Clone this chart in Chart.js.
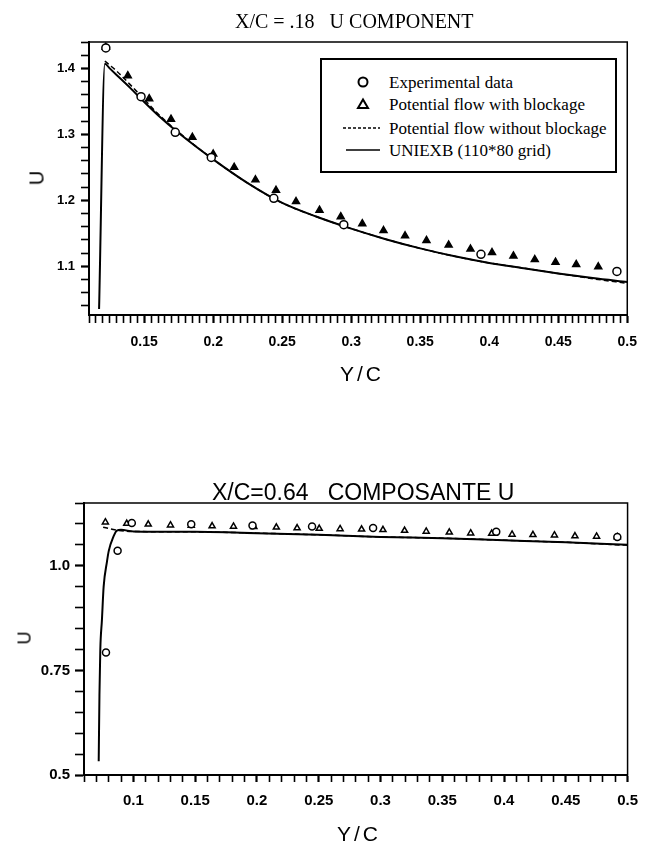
<!DOCTYPE html>
<html>
<head>
<meta charset="utf-8">
<script src="https://cdn.jsdelivr.net/npm/chart.js@4.4.1/dist/chart.umd.min.js"></script>
<style>
  body { margin: 0; background: #fff; }
  #wrap { position: relative; width: 648px; height: 843px; overflow: hidden; background: #fff; }
  canvas { position: absolute; left: 0; }
  .txt { position: absolute; white-space: pre; color: #000; line-height: 1; }
  .rot { transform: translate(-50%, -50%) rotate(-90deg); }
  #legend { position: absolute; left: 320px; top: 58px; width: 293px; height: 111px; border: 2px solid #000; background: #fff; }
  #legend .row { position: absolute; left: 67px; font: 17px 'Liberation Serif', serif; white-space: pre; line-height: 1; }
</style>
</head>
<body>
<div id="wrap">
  <canvas id="chart1" width="648" height="410" style="top:0px"></canvas>
  <canvas id="chart2" width="648" height="423" style="top:420px"></canvas>

  <div class="txt" style="left:235px;top:10px;font:20px 'Liberation Serif',serif;">X/C = .18   U COMPONENT</div>
  <div class="txt rot" style="left:37px;top:178px;font:20px 'Liberation Sans',sans-serif;">U</div>
  <div class="txt" style="left:340px;top:362px;font:21px 'Liberation Sans',sans-serif;letter-spacing:3px;">Y/C</div>

  <div id="legend">
    <svg width="293" height="111" style="position:absolute;left:0;top:0">
      <circle cx="41" cy="22" r="4.5" fill="none" stroke="#000" stroke-width="2"/>
      <polygon points="41,39.5 36,48 46,48" fill="none" stroke="#000" stroke-width="2"/>
      <line x1="21" y1="68" x2="58" y2="68" stroke="#000" stroke-width="1.5" stroke-dasharray="3,2"/>
      <line x1="24" y1="90" x2="58" y2="90" stroke="#000" stroke-width="1.5"/>
    </svg>
    <div class="row" style="top:14px">Experimental data</div>
    <div class="row" style="top:36px">Potential flow with blockage</div>
    <div class="row" style="top:60px">Potential flow without blockage</div>
    <div class="row" style="top:82px">UNIEXB (110*80 grid)</div>
  </div>

  <div class="txt" style="left:212px;top:479px;font:23px 'Liberation Sans',sans-serif;">X/C=0.64   COMPOSANTE U</div>
  <div class="txt rot" style="left:25px;top:638px;font:18px 'Liberation Sans',sans-serif;">U</div>
  <div class="txt" style="left:337px;top:822px;font:21px 'Liberation Sans',sans-serif;letter-spacing:3px;">Y/C</div>
</div>

<script>
// X/C = .18 chart
const topExpX = [0.1222, 0.1477, 0.1725, 0.1986, 0.2439, 0.2946, 0.394, 0.4925];
const topExpY = [1.431, 1.357, 1.303, 1.265, 1.203, 1.163, 1.118, 1.092];

const topBlockX = [0.1222, 0.1381, 0.1536, 0.1694, 0.1849, 0.2, 0.2152, 0.2306, 0.2455, 0.26, 0.277, 0.2924,
  0.308, 0.3234, 0.339, 0.3545, 0.3706, 0.3864, 0.402, 0.4175, 0.433, 0.448, 0.463, 0.479];
const topBlockY = [1.432, 1.389, 1.354, 1.323, 1.2955, 1.27, 1.25, 1.231, 1.215, 1.198, 1.185, 1.175,
  1.1645, 1.154, 1.146, 1.139, 1.132, 1.126, 1.1206, 1.1155, 1.11, 1.106, 1.1026, 1.099];

const topNoBlockX = [0.1215, 0.125, 0.13, 0.14, 0.15, 0.16, 0.175, 0.2, 0.225, 0.25, 0.275, 0.3, 0.325, 0.35, 0.375, 0.4, 0.425, 0.45, 0.475, 0.5];
const topNoBlockY = [1.411, 1.405, 1.396, 1.375, 1.353, 1.331, 1.303, 1.262, 1.226, 1.196, 1.175, 1.157, 1.141, 1.127, 1.115, 1.105, 1.097, 1.089, 1.081, 1.074];

const topUniX = [0.1173, 0.1215, 0.125, 0.13, 0.14, 0.15, 0.16, 0.175, 0.2, 0.225, 0.25, 0.275, 0.3, 0.325, 0.35, 0.375, 0.4, 0.425, 0.45, 0.475, 0.5];
const topUniY = [1.035, 1.407, 1.4, 1.39, 1.37, 1.349, 1.329, 1.302, 1.262, 1.226, 1.196, 1.175, 1.157, 1.141, 1.127, 1.115, 1.105, 1.097, 1.089, 1.082, 1.076];

const topXTicks = [0.15, 0.2, 0.25, 0.3, 0.35, 0.4, 0.45, 0.5];
const topXLabels = ['0.15', '0.2', '0.25', '0.3', '0.35', '0.4', '0.45', '0.5'];
const topYTicks = [1.1, 1.2, 1.3, 1.4];
const topYLabels = ['1.1', '1.2', '1.3', '1.4'];

// X/C = 0.64 chart
const botExpX = [0.0778, 0.0872, 0.0987, 0.1468, 0.1964, 0.2446, 0.294, 0.3937, 0.4917];
const botExpY = [0.793, 1.036, 1.102, 1.099, 1.096, 1.094, 1.09, 1.081, 1.069];

const botBlockX = [0.0773, 0.0946, 0.112, 0.13, 0.1468, 0.1637, 0.181, 0.1975, 0.2157, 0.2325, 0.2504, 0.2673, 0.2847,
  0.302, 0.3195, 0.337, 0.3557, 0.373, 0.39, 0.4065, 0.4234, 0.4408, 0.4574, 0.4749, 0.4917];
const botBlockY = [1.104, 1.101, 1.099, 1.097, 1.096, 1.095, 1.094, 1.093, 1.092, 1.09, 1.089, 1.088, 1.087,
  1.086, 1.084, 1.082, 1.08, 1.078, 1.077, 1.075, 1.074, 1.073, 1.071, 1.07, 1.069];

const botNoBlockX = [0.0755, 0.082, 0.0866, 0.1, 0.15, 0.2, 0.25, 0.3, 0.35, 0.4, 0.45, 0.5];
const botNoBlockY = [1.092, 1.088, 1.085, 1.082, 1.081, 1.078, 1.074, 1.069, 1.066, 1.061, 1.056, 1.049];

const botUniX = [0.0719, 0.0725, 0.0732, 0.0745, 0.0759, 0.0786, 0.08, 0.0839, 0.0866, 0.09, 0.1, 0.15, 0.2, 0.25, 0.3, 0.35, 0.4, 0.45, 0.5];
const botUniY = [0.533, 0.69, 0.8, 0.87, 0.95, 1.01, 1.035, 1.07, 1.084, 1.086, 1.082, 1.081, 1.078, 1.074, 1.069, 1.066, 1.061, 1.056, 1.05];

const botXTicks = [0.1, 0.15, 0.2, 0.25, 0.3, 0.35, 0.4, 0.45, 0.5];
const botXLabels = ['0.1', '0.15', '0.2', '0.25', '0.3', '0.35', '0.4', '0.45', '0.5'];
const botYTicks = [0.5, 0.75, 1.0];
const botYLabels = ['0.5', '0.75', '1.0'];

function pts(xs, ys) {
  return xs.map((x, i) => ({ x: x, y: ys[i] }));
}

function tickList(min, max, step) {
  const out = [];
  const n = Math.round((max - min) / step);
  for (let i = 0; i <= n; i++) out.push(+(min + i * step).toFixed(4));
  return out;
}

function isMajor(list, v) {
  return list.findIndex((m) => Math.abs(m - v) < 1e-6);
}

function axis(o) {
  return {
    type: 'linear',
    min: o.min,
    max: o.max,
    afterBuildTicks: (scale) => {
      scale.ticks = o.ticks.map((v) => ({ value: v }));
    },
    afterFit: (scale) => {
      if (o.width) scale.width = o.width;
      if (o.height) scale.height = o.height;
    },
    ticks: {
      autoSkip: false,
      maxRotation: 0,
      minRotation: 0,
      padding: o.pad,
      color: '#000',
      font: { family: "'Liberation Sans', sans-serif", size: o.fontSize, weight: 'bold' },
      callback: (v) => {
        const k = isMajor(o.major, v);
        return k >= 0 ? o.labels[k] : '';
      },
    },
    grid: {
      drawOnChartArea: false,
      drawTicks: true,
      tickLength: o.tickLen,
      tickColor: '#000',
      tickWidth: (ctx) => (ctx.tick && isMajor(o.major, ctx.tick.value) >= 0 ? 2.2 : 1.6),
    },
    border: { display: true, color: '#000', width: 2 },
  };
}

const frame = {
  id: 'frame',
  afterDraw(chart) {
    const a = chart.chartArea;
    const c = chart.ctx;
    c.save();
    c.strokeStyle = '#000';
    c.lineWidth = 1.5;
    c.strokeRect(a.left, a.top, a.right - a.left, a.bottom - a.top);
    c.restore();
  },
};

function datasets(exp, block, noBlock, uni, m) {
  return [
    {
      data: exp, showLine: false, pointStyle: 'circle', pointRadius: m.circle,
      pointBackgroundColor: '#fff', pointBorderColor: '#000', pointBorderWidth: 1.5, clip: false, order: 0,
    },
    {
      data: block, showLine: false, pointStyle: 'triangle', pointRadius: m.tri,
      pointBackgroundColor: m.triFill, pointBorderColor: '#000', pointBorderWidth: 1.5, clip: false, order: 1,
    },
    {
      data: uni, showLine: true, pointRadius: 0, borderColor: '#000', borderWidth: 2,
      cubicInterpolationMode: 'monotone', order: 2,
    },
    {
      data: noBlock, showLine: true, pointRadius: 0, borderColor: '#000', borderWidth: 1.5,
      borderDash: [5, 3], cubicInterpolationMode: 'monotone', order: 3,
    },
  ];
}

const baseOptions = {
  responsive: false,
  animation: false,
  plugins: { legend: { display: false }, tooltip: { enabled: false }, title: { display: false } },
};

new Chart(document.getElementById('chart1'), {
  type: 'scatter',
  data: {
    datasets: datasets(pts(topExpX, topExpY), pts(topBlockX, topBlockY), pts(topNoBlockX, topNoBlockY),
      pts(topUniX, topUniY), { circle: 4, tri: 4, triFill: '#000' }),
  },
  options: {
    ...baseOptions,
    layout: { padding: { top: 42, right: 11, left: 0, bottom: 0 } },
    scales: {
      x: axis({ min: 0.11, max: 0.5, ticks: tickList(0.11, 0.5, 0.005), major: topXTicks, labels: topXLabels,
        height: 95, pad: 11, tickLen: 8, fontSize: 14 }),
      y: axis({ min: 1.026, max: 1.44, ticks: tickList(1.04, 1.44, 0.02), major: topYTicks, labels: topYLabels,
        width: 89, pad: 6, tickLen: 8, fontSize: 13 }),
    },
  },
  plugins: [frame],
});

new Chart(document.getElementById('chart2'), {
  type: 'scatter',
  data: {
    datasets: datasets(pts(botExpX, botExpY), pts(botBlockX, botBlockY), pts(botNoBlockX, botNoBlockY),
      pts(botUniX, botUniY), { circle: 3.5, tri: 3.5, triFill: '#fff' }),
  },
  options: {
    ...baseOptions,
    layout: { padding: { top: 83, right: 15, left: 0, bottom: 0 } },
    scales: {
      x: axis({ min: 0.06, max: 0.5, ticks: tickList(0.06, 0.5, 0.01), major: botXTicks, labels: botXLabels,
        height: 68, pad: 10, tickLen: 7, fontSize: 15 }),
      y: axis({ min: 0.5, max: 1.15, ticks: tickList(0.5, 1.15, 0.05), major: botYTicks, labels: botYLabels,
        width: 84, pad: 5, tickLen: 9, fontSize: 15 }),
    },
  },
  plugins: [frame],
});
</script>
</body>
</html>
